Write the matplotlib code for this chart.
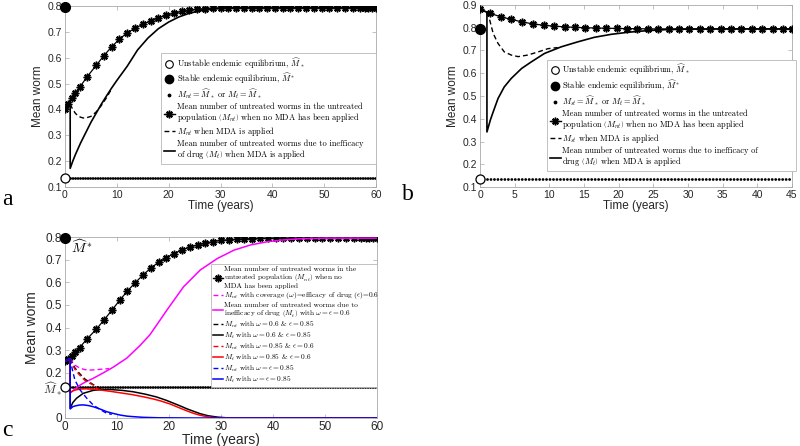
import matplotlib
matplotlib.use("Agg")
import matplotlib.pyplot as plt
from matplotlib.lines import Line2D

plt.rcParams['font.family'] = ['Liberation Sans', 'DejaVu Sans']
plt.rcParams['mathtext.fontset'] = 'cm'

# ---------------- Panel a data ----------------
a_M_unstable = 0.135
a_M_stable = 0.796
ta_star = [0, 0.6, 1.3, 1.9, 2.8, 4.3, 6.0, 7.5, 9.0, 10.5, 12.0, 13.5, 15.0, 16.5, 18.0, 19.5,
           21.0, 22.5, 24.0, 25.5, 27.0, 28.5, 30.0, 31.5, 33.0, 34.5, 36.0, 37.5, 39.0, 40.5,
           42.0, 43.5, 45.0, 46.5, 48.0, 49.5, 51.0, 52.5, 54.0, 55.5, 57.0, 57.8, 58.5, 59.2, 60.0]
ya_star = [0.400, 0.420, 0.443, 0.462, 0.485, 0.527, 0.570, 0.608, 0.642, 0.672, 0.696, 0.714,
           0.729, 0.742, 0.754, 0.764, 0.772, 0.779, 0.784, 0.788, 0.790, 0.792, 0.793, 0.794,
           0.794, 0.794, 0.794, 0.794, 0.794, 0.794, 0.794, 0.794, 0.794, 0.794, 0.794, 0.794,
           0.794, 0.794, 0.794, 0.794, 0.794, 0.794, 0.794, 0.794, 0.794]
ta_mt = [0, 1, 1, 1.5, 2, 3, 4, 5, 6, 7, 8, 9, 10, 12, 14, 16, 18, 20, 22, 24, 26, 28, 30, 35, 40, 50, 60]
ya_mt = [0.400, 0.420, 0.172, 0.200, 0.225, 0.270, 0.310, 0.350, 0.385, 0.420, 0.452, 0.483, 0.512,
         0.567, 0.630, 0.676, 0.712, 0.738, 0.758, 0.772, 0.781, 0.787, 0.791, 0.794, 0.794, 0.794, 0.794]
ta_mnt = [1, 1.5, 2, 2.5, 3, 3.5, 4, 5, 6, 7, 8, 9]
ya_mnt = [0.420, 0.400, 0.385, 0.375, 0.370, 0.367, 0.367, 0.373, 0.390, 0.415, 0.445, 0.480]

# ---------------- Panel b data ----------------
b_M_unstable = 0.133
b_M_stable = 0.795
tb_star = [0, 1.5, 3.0, 4.5, 6.0, 7.6, 9.2, 10.7, 12.2, 13.7, 15.2, 16.7, 18.2, 19.7, 21.2, 22.7,
           24.2, 25.7, 27.2, 28.7, 30.2, 31.7, 33.2, 34.7, 36.2, 37.7, 39.2, 40.7, 42.2, 43.7, 45.0]
yb_star = [0.881, 0.863, 0.848, 0.837, 0.826, 0.817, 0.811, 0.807, 0.804, 0.802, 0.800, 0.799,
           0.798, 0.797, 0.796, 0.796, 0.795, 0.795, 0.795, 0.795, 0.795, 0.795, 0.795, 0.795,
           0.795, 0.795, 0.795, 0.795, 0.795, 0.795, 0.795]
tb_mt = [0, 1, 1, 1.5, 1.9, 2.6, 3.5, 4.5, 6, 7.4, 9.3, 11.7, 14.1, 16.5, 18.9, 21.3, 24, 27, 30, 35, 40, 45]
yb_mt = [0.881, 0.868, 0.342, 0.395, 0.430, 0.489, 0.540, 0.577, 0.621, 0.650, 0.687, 0.716, 0.738,
         0.758, 0.771, 0.780, 0.787, 0.792, 0.794, 0.795, 0.795, 0.795]
tb_mnt = [1, 1.4, 1.9, 2.6, 3.5, 4.5, 5.5, 6.9, 8.4, 9.8, 11.2]
yb_mnt = [0.868, 0.834, 0.775, 0.731, 0.694, 0.680, 0.673, 0.680, 0.694, 0.708, 0.713]

# ---------------- Panel c data ----------------
c_M_unstable = 0.135
c_M_stable = 0.795
tc_star = ta_star
yc_star = [0.252, 0.260, 0.274, 0.290, 0.311, 0.351, 0.392, 0.433, 0.476, 0.520, 0.561, 0.598,
           0.632, 0.663, 0.688, 0.709, 0.727, 0.743, 0.755, 0.765, 0.773, 0.780, 0.785, 0.788,
           0.790, 0.792, 0.793, 0.794, 0.795, 0.795, 0.795, 0.795, 0.795, 0.795, 0.795, 0.795,
           0.795, 0.795, 0.795, 0.795, 0.795, 0.795, 0.795, 0.795, 0.795]
tc_m = [0, 1, 1, 2, 3, 4, 5.4, 7.4, 9.3, 11.9, 14.4, 16.3, 17.9, 19.6, 22.8, 26, 29.3, 32.5, 35.7,
        38.9, 42, 45, 50, 60]
yc_m = [0.252, 0.262, 0.110, 0.130, 0.147, 0.160, 0.175, 0.200, 0.225, 0.265, 0.320, 0.367, 0.420,
        0.477, 0.580, 0.654, 0.705, 0.742, 0.765, 0.779, 0.787, 0.792, 0.795, 0.795]
tc_md = [1, 1.5, 2, 2.9, 3.8, 4.8, 5.8, 6.7, 7.7, 8.5]
yc_md = [0.262, 0.245, 0.232, 0.220, 0.214, 0.212, 0.213, 0.215, 0.217, 0.218]
tc_k = [0, 1, 1, 1.5, 2.2, 3.5, 5.4, 6.7, 8.7, 11, 13.1, 15.5, 17.6, 19.5, 20.8, 22.2, 23.4, 24.8,
        26, 27.5, 29.3, 31, 33, 60]
yc_k = [0.252, 0.262, 0.043, 0.068, 0.087, 0.109, 0.122, 0.125, 0.126, 0.122, 0.116, 0.105, 0.093,
        0.078, 0.066, 0.053, 0.041, 0.029, 0.019, 0.010, 0.004, 0.001, 0.0, 0.0]
tc_kd = [1, 1.3, 1.9, 2.6, 3.2, 3.85, 4.6, 5.4, 6.3, 7.0]
yc_kd = [0.262, 0.246, 0.222, 0.202, 0.187, 0.172, 0.160, 0.148, 0.137, 0.128]
tc_r = [0, 1, 1, 1.5, 2.2, 3, 4, 5.4, 6.7, 8.7, 11, 13, 15, 17, 18.3, 20.2, 22.2, 23.5, 24.8, 26,
        27.5, 29, 60]
yc_r = [0.252, 0.262, 0.113, 0.120, 0.125, 0.128, 0.129, 0.127, 0.124, 0.118, 0.110, 0.103, 0.094,
        0.084, 0.076, 0.062, 0.043, 0.031, 0.020, 0.012, 0.005, 0.001, 0.0]
tc_rd = [1, 1.3, 1.9, 2.6, 3.2, 3.85, 4.6, 5.4, 6.3]
yc_rd = [0.262, 0.242, 0.215, 0.195, 0.180, 0.166, 0.155, 0.146, 0.128]
tc_b = [0, 1, 1, 1.5, 1.9, 2.7, 3.5, 4.5, 5.4, 6.7, 8, 9.3, 10.6, 12, 13.1, 15, 18, 25, 60]
yc_b = [0.252, 0.262, 0.040, 0.050, 0.053, 0.057, 0.058, 0.055, 0.050, 0.040, 0.028, 0.020, 0.013,
        0.008, 0.006, 0.003, 0.001, 0.0, 0.0]
tc_bd = [1, 1.4, 1.9, 2.9, 4.2, 5.4, 6.7, 8.0, 9.0]
yc_bd = [0.262, 0.215, 0.168, 0.124, 0.087, 0.058, 0.038, 0.021, 0.016]

MAGENTA = '#ff00ff'
RED = '#ff0000'
BLUE = '#0000ff'
DASH = (0, (3.5, 2.2))
STAR = (8, 2, 0)
LEG_FONT = {'family': 'cmr10', 'size': 6}

fig = plt.figure(figsize=(8, 4.46), dpi=100)
axa = fig.add_axes([65/800, 1-187/446, 311/800, 181/446])
axb = fig.add_axes([480/800, 1-187/446, 312/800, 182/446])
axc = fig.add_axes([65/800, 1-418/446, 312/800, 181/446])


def style(ax, labelsize=7.5, axlabelsize=8.5):
    for s in ax.spines.values():
        s.set_color('#a8a8a8')
        s.set_linewidth(0.6)
    ax.tick_params(direction='in', top=True, right=True, length=3, width=0.5,
                   color='#a8a8a8', labelsize=labelsize, labelcolor='#262626', pad=2)
    ax.set_xlabel('Time (years)', fontsize=axlabelsize, color='#262626', labelpad=0)
    ax.set_ylabel('Mean worm', fontsize=axlabelsize, color='#262626', labelpad=3)


def equilibria(ax, xmax, mu, ms, dotgap):
    ax.plot([0, xmax], [mu, mu], color='black', lw=2.0, ls=(0, (0.05, dotgap)),
            dash_capstyle='round', zorder=3)
    ax.plot([0], [mu], 'o', mfc='white', mec='black', ms=6.5, mew=0.9, clip_on=False, zorder=6)
    ax.plot([0], [ms], 'o', mfc='black', mec='black', ms=7, clip_on=False, zorder=6)


def legend_ab(ax, anchor, labels):
    h = [Line2D([], [], marker='o', mfc='white', mec='black', ms=5.5, mew=0.8, ls='none'),
         Line2D([], [], marker='o', mfc='black', mec='black', ms=6, ls='none'),
         Line2D([], [], marker='.', color='black', ms=3.5, ls='none'),
         Line2D([], [], marker=STAR, color='black', ms=5.5, mew=1.1, lw=1.0),
         Line2D([], [], color='black', lw=1.0, ls=DASH),
         Line2D([], [], color='black', lw=1.2)]
    leg = ax.legend(h, labels, loc='upper left', bbox_to_anchor=anchor, mode='expand',
                    prop=LEG_FONT, handlelength=1.3, handletextpad=0.2, labelspacing=0.15,
                    borderpad=0.35, borderaxespad=0, fancybox=False, framealpha=1,
                    edgecolor='#b8b8b8', numpoints=1)
    leg.get_frame().set_linewidth(0.6)
    for t in leg.get_texts():
        t.set_linespacing(1.0)
    return leg


# ---------------- Panel a ----------------
ax = axa
equilibria(ax, 60, a_M_unstable, a_M_stable, 0.85)
ax.plot(ta_star, ya_star, color='black', lw=0.9, marker=STAR, ms=5.5, mew=1.1, zorder=4)
ax.plot(ta_mt, ya_mt, color='black', lw=1.2, zorder=4)
ax.plot(ta_mnt, ya_mnt, color='black', lw=1.0, ls=DASH, zorder=4)
ax.set_xlim(0, 60)
ax.set_ylim(0.1, 0.8)
ax.set_xticks([0, 10, 20, 30, 40, 50, 60])
ax.set_yticks([0.1, 0.2, 0.3, 0.4, 0.5, 0.6, 0.7, 0.8])
style(ax)
legend_ab(ax, (0.309, 0.128, 0.691, 0.612), [
    r'Unstable endemic equilibrium, $\widehat{M}_*$',
    r'Stable endemic equilibrium, $\widehat{M}^*$',
    r'$M_{nt}=\widehat{M}_*$ or $M_t=\widehat{M}_*$',
    'Mean number of untreated worms in the untreated\npopulation $\\left(M_{nt}\\right)$ when no MDA has been applied',
    r'$M_{nt}$ when MDA is applied',
    'Mean number of untreated worms due to inefficacy\nof drug $\\left(M_t\\right)$ when MDA is applied'])

# ---------------- Panel b ----------------
ax = axb
equilibria(ax, 45, b_M_unstable, b_M_stable, 1.2)
ax.plot(tb_star, yb_star, color='black', lw=0.9, marker=STAR, ms=5.5, mew=1.1, zorder=4)
ax.plot(tb_mt, yb_mt, color='black', lw=1.2, zorder=4)
ax.plot(tb_mnt, yb_mnt, color='black', lw=1.0, ls=DASH, zorder=4)
ax.set_xlim(0, 45)
ax.set_ylim(0.1, 0.9)
ax.set_xticks([0, 5, 10, 15, 20, 25, 30, 35, 40, 45])
ax.set_yticks([0.1, 0.2, 0.3, 0.4, 0.5, 0.6, 0.7, 0.8, 0.9])
style(ax)
legend_ab(ax, (0.214, 0.112, 0.799, 0.586), [
    r'Unstable endemic equilibrium, $\widehat{M}_*$',
    r'Stable endemic equilibrium, $\widehat{M}^*$',
    r'$M_{st}=\widehat{M}_*$ or $M_t=\widehat{M}_*$',
    'Mean number of untreated worms in the untreated\npopulation $\\left(M_{nt}\\right)$ when no MDA has been applied',
    r'$M_{st}$ when MDA is applied',
    'Mean number of untreated worms due to inefficacy of\ndrug $\\left(M_t\\right)$ when MDA is applied'])

# ---------------- Panel c ----------------
ax = axc
ax.plot([0, 60], [c_M_unstable, c_M_unstable], color='black', lw=2.0, ls=(0, (0.05, 0.85)),
        dash_capstyle='round', zorder=3)
ax.plot([0], [c_M_unstable], 'o', mfc='white', mec='black', ms=6.5, mew=0.9, clip_on=False, zorder=6)
ax.plot([0], [c_M_stable], 'o', mfc='black', mec='black', ms=7, clip_on=False, zorder=6)
l_star, = ax.plot(tc_star, yc_star, color='black', lw=0.9, marker=STAR, ms=5.5, mew=1.1, zorder=4)
l_md, = ax.plot(tc_md, yc_md, color=MAGENTA, lw=1.0, ls=DASH, zorder=4)
l_m, = ax.plot(tc_m, yc_m, color=MAGENTA, lw=1.1, zorder=4)
l_kd, = ax.plot(tc_kd, yc_kd, color='black', lw=1.0, ls=DASH, zorder=4)
l_k, = ax.plot(tc_k, yc_k, color='black', lw=1.1, zorder=4)
l_rd, = ax.plot(tc_rd, yc_rd, color=RED, lw=1.0, ls=DASH, zorder=4)
l_r, = ax.plot(tc_r, yc_r, color=RED, lw=1.1, zorder=4)
l_bd, = ax.plot(tc_bd, yc_bd, color=BLUE, lw=1.0, ls=DASH, zorder=4)
l_b, = ax.plot(tc_b, yc_b, color=BLUE, lw=1.1, zorder=4)
ax.set_xlim(0, 60)
ax.set_ylim(0, 0.8)
ax.set_xticks([0, 10, 20, 30, 40, 50, 60])
ax.set_yticks([0, c_M_unstable, 0.2, 0.3, 0.4, 0.5, 0.6, 0.7, 0.8])
ax.set_yticklabels(['0', r'$\widehat{M}_*$', '0.2', '0.3', '0.4', '0.5', '0.6', '0.7', '0.8'])
style(ax, labelsize=8.5, axlabelsize=10)
ax.text(1.2, 0.755, r'$\widehat{M}^*$', fontsize=10, ha='left', va='center')
hc = [Line2D([], [], marker=STAR, color='black', ms=5.5, mew=1.1, lw=1.0),
      l_md, l_m, l_kd, l_k, l_rd, l_r, l_bd, l_b]
labc = ['Mean number of untreated worms in the\nuntreated population $\\left(M_{nt}\\right)$ when no\nMDA has been applied',
        r'$M_{nt}$ with coverage $(\omega)$=efficacy of drug $(\epsilon)$=0.6',
        'Mean number of untreated worms due to\ninefficacy of drug $\\left(M_t\\right)$ with $\\omega=\\epsilon=0.6$',
        r'$M_{nt}$ with $\omega=0.6$ & $\epsilon=0.85$',
        r'$M_t$ with $\omega=0.6$ & $\epsilon=0.85$',
        r'$M_{nt}$ with $\omega=0.85$ & $\epsilon=0.6$',
        r'$M_t$ with $\omega=0.85$ & $\epsilon=0.6$',
        r'$M_{nt}$ with $\omega=\epsilon=0.85$',
        r'$M_t$ with $\omega=\epsilon=0.85$']
legc = ax.legend(hc, labc, loc='upper left', bbox_to_anchor=(0.467, 0.21, 0.533, 0.641),
                 mode='expand', prop={'family': 'cmr10', 'size': 5.3}, handlelength=1.3,
                 handletextpad=0.2, labelspacing=0.1, borderpad=0.35, borderaxespad=0,
                 fancybox=False, framealpha=1, edgecolor='#b8b8b8', numpoints=1)
legc.get_frame().set_linewidth(0.6)
for t in legc.get_texts():
    t.set_linespacing(1.0)

# panel letters
fig.text(2/800, 1-205/446, 'a', fontsize=17, family='Liberation Serif', ha='left', va='baseline')
fig.text(402/800, 1-200/446, 'b', fontsize=17, family='Liberation Serif', ha='left', va='baseline')
fig.text(2/800, 1-436/446, 'c', fontsize=17, family='Liberation Serif', ha='left', va='baseline')

fig.savefig('out.png', dpi=100)
